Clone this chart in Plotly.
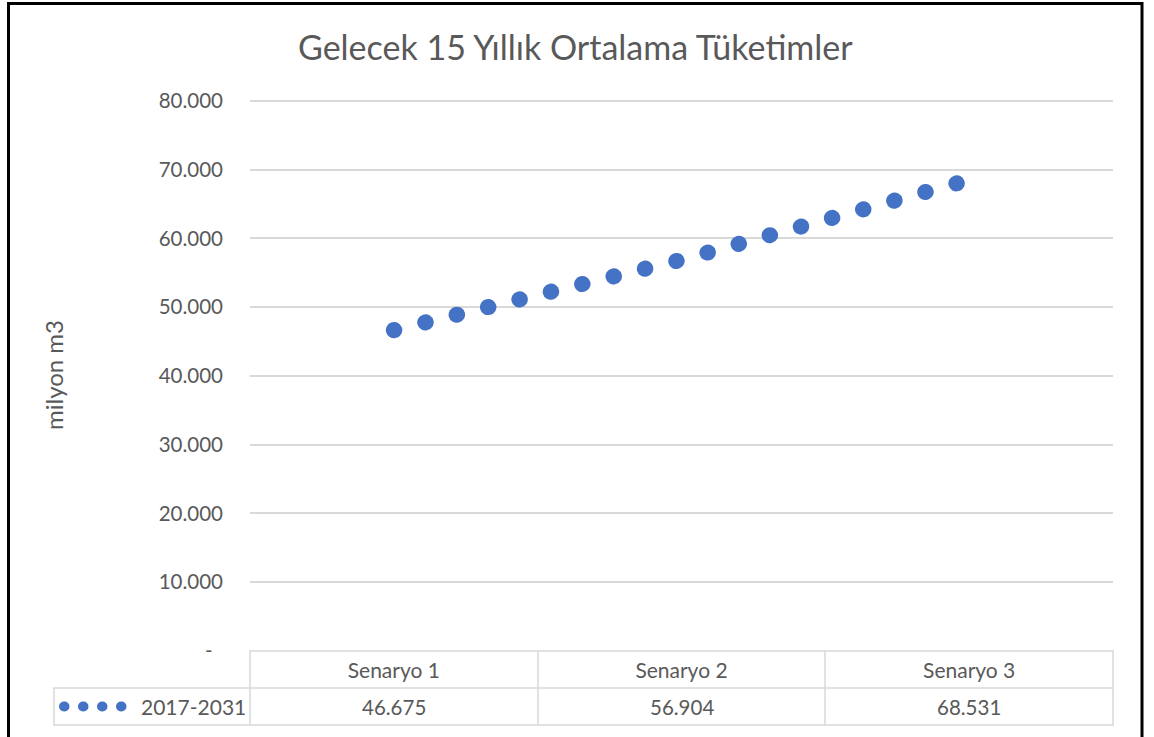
import plotly.graph_objects as go

# data
categories = ["Senaryo 1", "Senaryo 2", "Senaryo 3"]
values = [46675, 56904, 68531]
series_name = "2017-2031"
y_ticks = [0, 10000, 20000, 30000, 40000, 50000, 60000, 70000, 80000]

W, H = 1154, 737
FONT = "Lato"
TXT = "#595959"
GRID = "#D9D9D9"
BLUE = "#4472C4"

# plot box: y=0 sits at pixel 651, 80.000 at pixel 101
Y_BOTTOM, Y_TOP, Y_MAX = 651, 101, 80000
Y_HEAD = 300  # a little headroom so the top gridline isn't clipped
y_top_px = Y_BOTTOM - (Y_MAX + Y_HEAD) * (Y_BOTTOM - Y_TOP) / Y_MAX


def px(x):
    return x / W


def py(y):
    return 1 - y / H


def fmt(v):
    # turkish style thousands separator
    return f"{v:,.0f}".replace(",", ".")


tick_text = [fmt(v) if v else "-\u00a0\u00a0" for v in y_ticks]

fig = go.Figure()
fig.add_trace(
    go.Scatter(
        x=categories,
        y=values,
        name=series_name,
        mode="lines",
        line=dict(color=BLUE, width=16, dash="0.5px,31.8px"),
        showlegend=False,
    )
)

# data table grid
table_lines = [
    (250, 651, 1113, 651),
    (54, 688, 1113, 688),
    (54, 725, 1113, 725),
    (54, 688, 54, 725),
    (250, 651, 250, 725),
    (538, 651, 538, 725),
    (825, 651, 825, 725),
    (1113, 651, 1113, 725),
]
shapes = []
for x0, y0, x1, y1 in table_lines:
    shapes.append(
        dict(
            type="line", xref="paper", yref="paper",
            x0=px(x0), y0=py(y0), x1=px(x1), y1=py(y1),
            line=dict(color=GRID, width=1.5),
        )
    )

# legend key in the table
shapes.append(
    dict(
        type="line", xref="paper", yref="paper",
        x0=px(64), y0=py(706.5), x1=px(122), y1=py(706.5),
        line=dict(color=BLUE, width=10, dash="0.5px,18.5px"),
    )
)

# outer frame
shapes.append(
    dict(
        type="rect", xref="paper", yref="paper",
        x0=px(8.5), y0=py(745), x1=px(1142), y1=py(3.5),
        line=dict(color="black", width=3),
    )
)

annotations = [
    dict(
        text="Gelecek 15 Yıllık Ortalama Tüketimler",
        xref="paper", yref="paper", x=px(575), y=py(46),
        xanchor="center", yanchor="middle", showarrow=False,
        font=dict(family=FONT, size=34, color=TXT),
    ),
    dict(
        text="milyon m3",
        xref="paper", yref="paper", x=px(53), y=py(375),
        xanchor="center", yanchor="middle", showarrow=False, textangle=-90,
        font=dict(family=FONT, size=24, color=TXT),
    ),
    dict(
        text=series_name,
        xref="paper", yref="paper", x=px(139), y=py(706.5),
        xanchor="left", yanchor="middle", showarrow=False,
        font=dict(family=FONT, size=21, color=TXT),
    ),
]
for cat, v in zip(categories, values):
    annotations.append(
        dict(
            text=fmt(v),
            xref="x", yref="paper", x=cat, y=py(706.5),
            xanchor="center", yanchor="middle", showarrow=False,
            font=dict(family=FONT, size=20.5, color=TXT),
        )
    )

fig.update_layout(
    width=W,
    height=H,
    autosize=False,
    margin=dict(l=0, r=0, t=0, b=0, pad=0, autoexpand=False),
    paper_bgcolor="white",
    plot_bgcolor="white",
    font=dict(family=FONT, size=20.5, color=TXT),
    shapes=shapes,
    annotations=annotations,
)
fig.update_xaxes(
    domain=[px(250), px(1113)],
    type="category",
    range=[-0.5, 2.5],
    showgrid=False,
    zeroline=False,
    showline=False,
    ticks="",
    automargin=False,
    ticklabelstandoff=5,
    tickfont=dict(family=FONT, size=21, color=TXT),
)
fig.update_yaxes(
    domain=[py(Y_BOTTOM), py(y_top_px)],
    range=[0, Y_MAX + Y_HEAD],
    tickmode="array",
    tickvals=y_ticks,
    ticktext=tick_text,
    showgrid=True,
    gridcolor=GRID,
    gridwidth=1.5,
    zeroline=False,
    showline=False,
    ticks="",
    automargin=False,
    ticklabelstandoff=26,
    tickfont=dict(family=FONT, size=20.5, color=TXT),
)

# round caps so the dashed lines render as round dots (Excel "round dot"),
# and drop the default page margin
post = """
document.body.style.margin = '0';
var gd = document.getElementById('{plot_id}');
gd.querySelectorAll('path.js-line, .shapelayer path').forEach(function(p){
    p.style.strokeLinecap = 'round';
});
"""
fig.write_html("out.html", post_script=post, config={"displayModeBar": False})
